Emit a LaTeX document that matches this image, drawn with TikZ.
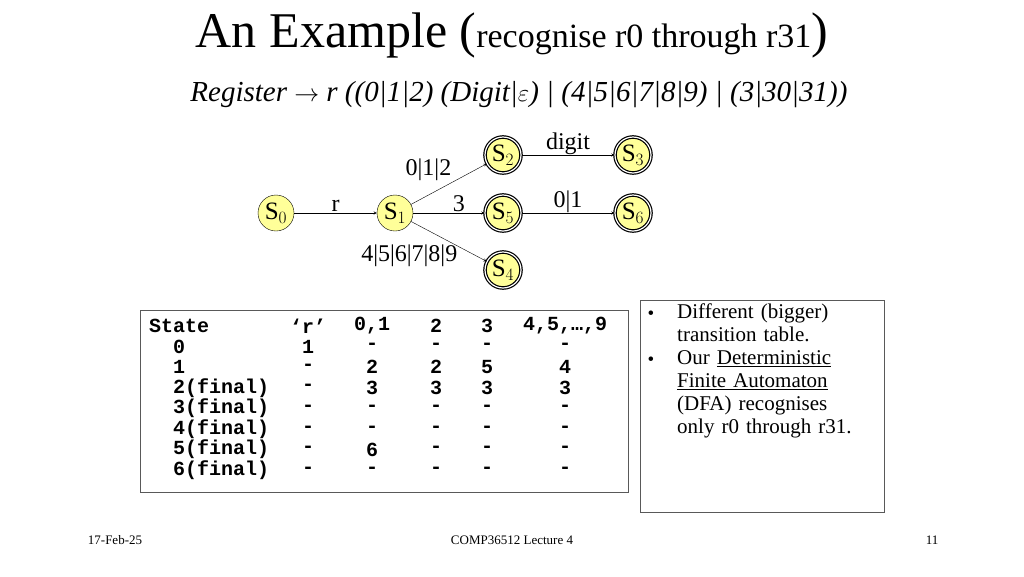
\documentclass[tikz,border=0pt]{standalone}
\usepackage{fontspec}
\setmainfont{Liberation Serif}
\setmonofont{Liberation Mono}
\usepackage{tikz}
\usetikzlibrary{positioning}
\definecolor{stateyellow}{RGB}{255,255,153}
\tikzset{
  state/.style={circle, draw, fill=stateyellow, minimum size=36pt, inner sep=0pt, font=\fontsize{25}{27}\selectfont},
  final/.style={state, double, very thick, double distance=1.2pt},
  trans/.style={->, >=stealth, thin},
  lbl/.style={font=\fontsize{24}{26}\selectfont},
  cell/.style={font=\fontsize{20}{22}\selectfont\ttfamily\bfseries, inner sep=0pt},
}
\begin{document}
\begin{tikzpicture}[x=1pt, y=-1pt]
    \useasboundingbox (0,0) rectangle (1024,576);
    % Title
    \node (title) at (512,35) {\fontsize{50}{54}\selectfont An Example (\fontsize{34}{38}\selectfont recognise r0 through r31\fontsize{50}{54}\selectfont )};
    \node (rule) at (519,95) {\fontsize{29}{32}\selectfont\itshape Register $\rightarrow$ r ((0|1|2) (Digit|$\varepsilon$) | (4|5|6|7|8|9) | (3|30|31))};

    % States
    \node[state] (s0) at (276,213) {S$_0$};
    \node[state] (s1) at (395,213) {S$_1$};
    \node[final] (s2) at (503,155) {S$_2$};
    \node[final] (s3) at (633,155) {S$_3$};
    \node[final] (s5) at (503,213) {S$_5$};
    \node[final] (s6) at (633,213) {S$_6$};
    \node[final] (s4) at (503,270) {S$_4$};

    % Transitions
    \draw[trans] (s0) -- (s1) node[midway, above, lbl, inner sep=1pt] {r};
    \draw[trans] (s1) -- (s2) node[midway, above left, lbl, xshift=6pt] {0|1|2};
    \draw[trans] (s1) -- (s5) node[midway, above, lbl, xshift=10pt, inner sep=1pt] {3};
    \draw[trans] (s1) -- (s4) node[midway, below left, lbl, xshift=12pt] {4|5|6|7|8|9};
    \draw[trans] (s2) -- (s3) node[midway, above, lbl, yshift=-3pt] {digit};
    \draw[trans] (s5) -- (s6) node[midway, above, lbl, yshift=-3pt] {0|1};

    % Transition table
    \draw[gray!70!black] (140,310) rectangle (628,492);
    \node[cell, anchor=west] (row0) at (149,326) {State};
    \foreach \lab [count=\i] in {0, 1, 2(final), 3(final), 4(final), 5(final), 6(final)}
      \node[cell, anchor=west] (row\i) at (173,{326+20.6*\i}) {\lab};
    \foreach \a/\b/\c/\d/\e [count=\i from 0] in {‘r’/{0,1}/2/3/{4,5,…,9}, 1/-/-/-/-, -/2/2/5/4, -/3/3/3/3, -/-/-/-/-, -/-/-/-/-, -/6/-/-/-, -/-/-/-/-}{
      \node[cell] (ca\i) at (308,{326+20.6*\i}) {\a};
      \node[cell] (cb\i) at (372,{326+20.6*\i}) {\b};
      \node[cell] (cc\i) at (436,{326+20.6*\i}) {\c};
      \node[cell] (cd\i) at (487,{326+20.6*\i}) {\d};
      \node[cell] (ce\i) at (565,{326+20.6*\i}) {\e};
    }

    % Notes
    \draw[gray!70!black] (640,300) rectangle (884,512);
    \node[anchor=north west, inner sep=0pt, text width=195pt, align=left, font=\fontsize{21}{23}\selectfont] (notes) at (677,304) {%
      Different (bigger)\\ transition table.\\
      Our \underline{Deterministic}\\ \underline{Finite Automaton}\\ (DFA) recognises\\ only r0 through r31.};
    \node[font=\fontsize{19}{22}\selectfont] (b1) at (651,315) {•};
    \node[font=\fontsize{19}{22}\selectfont] (b2) at (651,361) {•};

    % Footer
    \node[font=\fontsize{13}{15}\selectfont] (date) at (115,540) {17-Feb-25};
    \node[font=\fontsize{13}{15}\selectfont] (course) at (512,540) {COMP36512 Lecture 4};
    \node[font=\fontsize{13}{15}\selectfont] (page) at (932,540) {11};
\end{tikzpicture}
\end{document}
